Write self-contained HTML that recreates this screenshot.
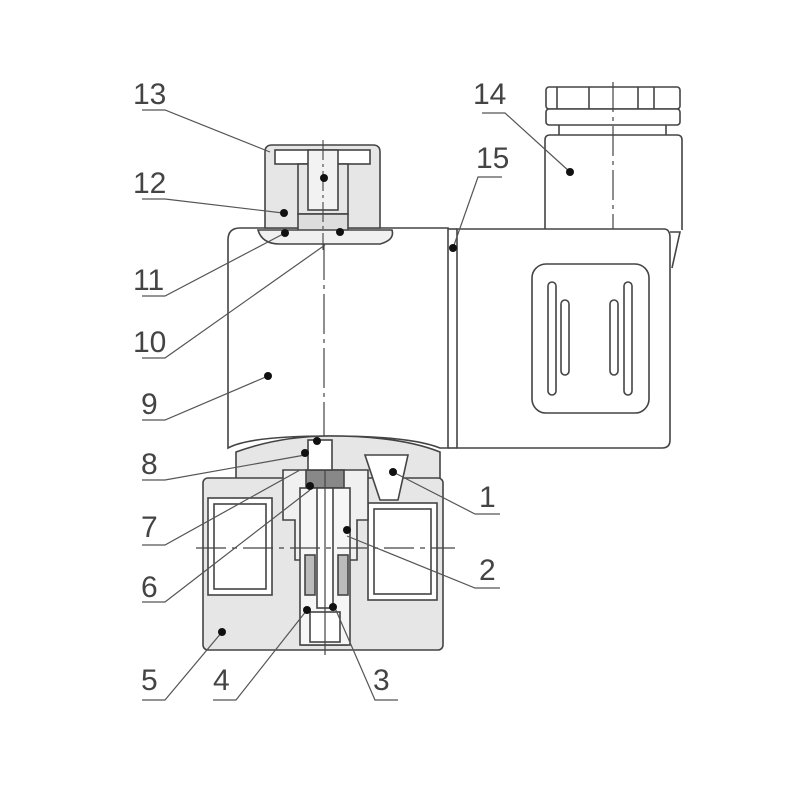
<!DOCTYPE html>
<html><head><meta charset="utf-8"><style>body{margin:0;background:#fff}svg{display:block}</style></head>
<body>
<svg width="800" height="800" viewBox="0 0 800 800" xmlns="http://www.w3.org/2000/svg" font-family="Liberation Sans, sans-serif">
<g fill="none" stroke="#444" stroke-width="1.6">
<!-- connector top 14 -->
<rect x="546" y="87" width="134" height="22" rx="3" fill="#fff"/>
<rect x="546" y="109" width="134" height="16" rx="3" fill="#fff"/>
<line x1="557" y1="87" x2="557" y2="109"/><line x1="589" y1="87" x2="589" y2="109"/>
<line x1="638" y1="87" x2="638" y2="109"/><line x1="654" y1="87" x2="654" y2="109"/>
<line x1="559" y1="125" x2="559" y2="135"/><line x1="666" y1="125" x2="666" y2="135"/>
<path d="M545 230 V140 Q545 135 550 135 H677 Q682 135 682 140 V230" fill="#fff"/>
<line x1="613" y1="82" x2="613" y2="240" stroke-dasharray="30,5,4,5" stroke-width="1.2"/>
<!-- connector body -->
<path d="M457 229 H664 Q670 229 670 238 V440 Q670 448 662 448 H457 Z" fill="#fff"/>
<path d="M670 232 L680 232 L672 268" />
<line x1="448" y1="229" x2="457" y2="229"/><line x1="448" y1="448" x2="457" y2="448"/>
<rect x="532" y="264" width="117" height="149" rx="14"/>
<rect x="548" y="282" width="8" height="113" rx="4"/>
<rect x="561" y="300" width="8" height="75" rx="4"/>
<rect x="610" y="300" width="8" height="75" rx="4"/>
<rect x="624" y="282" width="8" height="113" rx="4"/>
<!-- coil 9 -->
<path d="M228 240 Q228 228 240 228 H448 V448 H440 Q410 436 330 436 Q250 436 228 448 Z" fill="#fff"/>
<line x1="324" y1="240" x2="324" y2="436" stroke-dasharray="40,5,4,5" stroke-width="1.2"/>
<!-- top cap 13 -->
<path d="M265 228 V152 Q265 145 272 145 H373 Q380 145 380 152 V228 Z" fill="#e6e6e6"/>
<rect x="275" y="150" width="95" height="14" fill="#fff"/>
<rect x="298" y="164" width="50" height="50" fill="#e6e6e6"/>
<rect x="308" y="150" width="30" height="60" fill="#f2f2f2"/>
<rect x="298" y="214" width="50" height="27" fill="#ddd"/>
<path d="M258 230 Q262 244 280 244 H380 Q395 240 392 230 Z" fill="#f0f0f0"/>
<line x1="323" y1="140" x2="323" y2="250" stroke-dasharray="20,4,3,4" stroke-width="1.1"/>
<!-- upper plate -->
<path d="M236 478 V452 Q280 436 330 436 Q400 436 440 452 V478" fill="#e6e6e6"/>
<!-- base 5 -->
<rect x="203" y="478" width="240" height="172" rx="5" fill="#e6e6e6"/>
<rect x="208" y="498" width="64" height="97" fill="#fff"/>
<rect x="214" y="504" width="52" height="85"/>
<rect x="368" y="503" width="69" height="97" fill="#fff"/>
<rect x="374" y="509" width="57" height="85"/>
<!-- stem region -->
<path d="M283 470 V520 H295 V560 H302 V645 H347 V560 H357 V520 H368 V470 Z" fill="#f0f0f0"/>
<rect x="306" y="470" width="38" height="18" fill="#888"/>
<rect x="300" y="488" width="50" height="157" fill="#f6f6f6"/>
<rect x="317" y="488" width="16" height="120" fill="#fff"/>
<rect x="310" y="612" width="30" height="30" fill="#fff"/>
<rect x="305" y="555" width="10" height="40" fill="#bbb"/>
<rect x="338" y="555" width="10" height="40" fill="#bbb"/>
<rect x="308" y="440" width="24" height="30" fill="#fff"/>
<path d="M365 455 H408 L398 500 H380 Z" fill="#fff"/>
<line x1="196" y1="548" x2="455" y2="548" stroke-dasharray="30,6,5,6" stroke-width="1.2"/>
<line x1="325" y1="470" x2="325" y2="655" stroke-width="1.2"/>
<!-- leaders -->
<g stroke="#555" stroke-width="1.2">
<path d="M142 110 H165 L270 152"/>
<path d="M142 199 H165 L283 213"/>
<path d="M142 296 H165 L285 233"/>
<path d="M142 358 H165 L325 245"/>
<path d="M142 420 H165 L268 376"/>
<path d="M142 480 H165 L305 455"/>
<path d="M142 545 H165 L300 470"/>
<path d="M142 602 H165 L310 490"/>
<path d="M142 700 H165 L222 632"/>
<path d="M213 700 H236 L307 610"/>
<path d="M398 700 H375 L335 608"/>
<path d="M500 514 H475 L393 472"/>
<path d="M500 588 H475 L347 536"/>
<path d="M482 113 H505 L570 172"/>
<path d="M502 177 H478 L453 248"/>
</g>
</g>
<g fill="#111">
<circle cx="324" cy="178" r="4"/><circle cx="284" cy="213" r="4"/><circle cx="285" cy="233" r="4"/>
<circle cx="340" cy="232" r="4"/><circle cx="268" cy="376" r="4"/><circle cx="305" cy="453" r="4"/>
<circle cx="317" cy="441" r="4"/><circle cx="310" cy="486" r="4"/><circle cx="222" cy="632" r="4"/>
<circle cx="307" cy="610" r="4"/><circle cx="333" cy="607" r="4"/><circle cx="393" cy="472" r="4"/>
<circle cx="347" cy="530" r="4"/><circle cx="570" cy="172" r="4"/><circle cx="453" cy="248" r="4"/>
</g>
<g fill="#444" font-size="30">
<text x="133" y="104">13</text><text x="133" y="193">12</text><text x="133" y="290">11</text>
<text x="133" y="352">10</text><text x="141" y="414">9</text><text x="141" y="474">8</text>
<text x="141" y="537">7</text><text x="141" y="597">6</text><text x="141" y="690">5</text>
<text x="213" y="690">4</text><text x="373" y="690">3</text><text x="479" y="507">1</text>
<text x="479" y="580">2</text><text x="473" y="104">14</text><text x="476" y="168">15</text>
</g>
</svg>
</body></html>
